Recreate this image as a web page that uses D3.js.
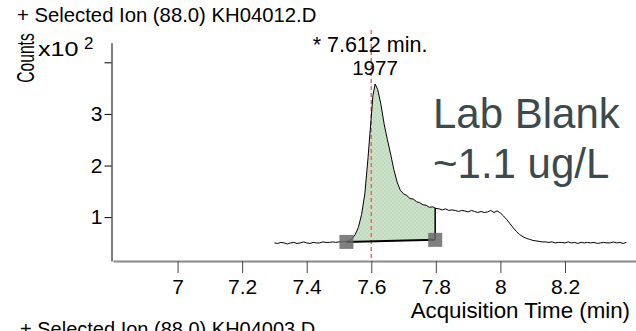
<!DOCTYPE html>
<html>
<head>
<meta charset="utf-8">
<script src="https://cdn.jsdelivr.net/npm/d3@7"></script>
<style>
  html, body { margin: 0; padding: 0; background: #fff; }
  svg { display: block; font-family: "Liberation Sans", Arial, sans-serif; }
</style>
</head>
<body>
<svg id="chart" width="636" height="331"></svg>
<script>
// 数据
const times = [
  7.30, 7.31, 7.32, 7.33, 7.34, 7.35, 7.36, 7.37, 7.38, 7.39,
  7.40, 7.41, 7.42, 7.43, 7.44, 7.45, 7.46, 7.47, 7.48, 7.49,
  7.50, 7.51, 7.52, 7.53, 7.54, 7.55, 7.56, 7.57, 7.58, 7.59,
  7.60, 7.605, 7.612, 7.62, 7.63, 7.64, 7.65, 7.66, 7.67, 7.68,
  7.69, 7.70, 7.71, 7.72, 7.73, 7.74, 7.75, 7.76, 7.77, 7.78,
  7.79, 7.80, 7.81, 7.82, 7.83, 7.84, 7.85, 7.86, 7.87, 7.88,
  7.89, 7.90, 7.91, 7.92, 7.93, 7.94, 7.95, 7.96, 7.97, 7.98,
  7.99, 8.00, 8.01, 8.02, 8.03, 8.04, 8.05, 8.06, 8.07, 8.08,
  8.09, 8.10, 8.11, 8.12, 8.13, 8.14, 8.15, 8.16, 8.17, 8.18,
  8.19, 8.20, 8.21, 8.22, 8.23, 8.24, 8.25, 8.26, 8.27, 8.28,
  8.29, 8.30, 8.31, 8.32, 8.33, 8.34, 8.35, 8.36, 8.37, 8.38, 8.39
];
const counts = [
  0.50, 0.49, 0.51, 0.50, 0.48, 0.50, 0.51, 0.49, 0.50, 0.52,
  0.50, 0.49, 0.51, 0.50, 0.50, 0.52, 0.51, 0.51, 0.52, 0.51,
  0.52, 0.52, 0.53, 0.54, 0.58, 0.66, 0.80, 1.05, 1.45, 2.15,
  2.95, 3.35, 3.58, 3.47, 3.18, 2.80, 2.50, 2.22, 1.92, 1.68,
  1.52, 1.45, 1.42, 1.36, 1.35, 1.30, 1.28, 1.24, 1.23, 1.19,
  1.20, 1.17, 1.16, 1.14, 1.16, 1.13, 1.14, 1.13, 1.11, 1.13,
  1.12, 1.10, 1.13, 1.11, 1.09, 1.11, 1.09, 1.10, 1.13, 1.09,
  1.12, 1.08, 1.02, 0.95, 0.87, 0.79, 0.72, 0.66, 0.62, 0.59,
  0.57, 0.55, 0.54, 0.53, 0.52, 0.52, 0.51, 0.52, 0.50, 0.51,
  0.51, 0.50, 0.52, 0.50, 0.51, 0.49, 0.51, 0.50, 0.51, 0.50,
  0.51, 0.49, 0.50, 0.51, 0.50, 0.50, 0.52, 0.50, 0.51, 0.49, 0.51
];
const xTicks = [7, 7.2, 7.4, 7.6, 7.8, 8, 8.2];
const yTicks = [1, 2, 3, 4];
// 积分起止点 [time, counts]
const integStart = [7.523, 0.52];
const integEnd = [7.798, 0.56];
const rtLine = 7.6;
const peakLabel = ["* 7.612 min.", "1977"];
const noteLines = ["Lab Blank", "~1.1 ug/L"];

const svg = d3.select("#chart");

const x = d3.scaleLinear().domain([6.8, 8.42]).range([113, 636]);
const y = d3.scaleLinear().domain([0.15, 4.38]).range([261, 42.7]);

const series = times.map((t, i) => ({ t, v: counts[i] }));

// 棋盘格填充
const defs = svg.append("defs");
defs.append("pattern")
  .attr("id", "checks")
  .attr("width", 4)
  .attr("height", 4)
  .attr("patternUnits", "userSpaceOnUse")
  .call((p) => {
    p.append("rect").attr("width", 4).attr("height", 4).attr("fill", "#c2dbbe");
    p.append("rect").attr("width", 2).attr("height", 2).attr("fill", "#cde2ca");
    p.append("rect").attr("x", 2).attr("y", 2).attr("width", 2).attr("height", 2).attr("fill", "#cde2ca");
  });

// 标题
svg.append("text")
  .attr("x", 17)
  .attr("y", 22)
  .attr("font-size", 20.3)
  .text("+ Selected Ion (88.0) KH04012.D");

svg.append("text")
  .attr("transform", "translate(33.5, 58) rotate(-90) scale(0.68, 1)")
  .attr("text-anchor", "middle")
  .attr("font-size", 23)
  .text("Counts");

svg.append("text")
  .attr("transform", "translate(38, 56) scale(1.2, 1)")
  .attr("font-size", 21)
  .text("x10");
svg.append("text")
  .attr("x", 84)
  .attr("y", 49)
  .attr("font-size", 17)
  .text("2");

// 积分面积
const baseAt = (t) =>
  integStart[1] + ((t - integStart[0]) / (integEnd[0] - integStart[0])) * (integEnd[1] - integStart[1]);
const curveAt = (t) => {
  const i = d3.bisectLeft(times, t);
  const a = series[i - 1], b = series[i];
  return a.v + ((t - a.t) / (b.t - a.t)) * (b.v - a.v);
};
const inside = series.filter((d) => d.t > integStart[0] && d.t < integEnd[0]);
const areaPts = [
  { t: integStart[0], top: integStart[1], bot: integStart[1] },
  ...inside.map((d) => ({ t: d.t, top: d.v, bot: baseAt(d.t) })),
  { t: integEnd[0], top: curveAt(integEnd[0]), bot: integEnd[1] },
];
svg.append("path")
  .datum(areaPts)
  .attr("fill", "url(#checks)")
  .attr("d", d3.area().x((d) => x(d.t)).y0((d) => y(d.bot)).y1((d) => y(d.top)));

// 保留时间线
svg.append("line")
  .attr("x1", x(rtLine))
  .attr("x2", x(rtLine))
  .attr("y1", 30)
  .attr("y2", 262)
  .attr("stroke", "#f26464")
  .attr("stroke-width", 1.5)
  .attr("stroke-dasharray", "4,3");

// 积分基线
svg.append("line")
  .attr("x1", x(integStart[0]))
  .attr("y1", y(integStart[1]))
  .attr("x2", x(integEnd[0]))
  .attr("y2", y(integEnd[1]))
  .attr("stroke", "#000")
  .attr("stroke-width", 2);
svg.append("line")
  .attr("x1", x(integEnd[0]))
  .attr("y1", y(integEnd[1]))
  .attr("x2", x(integEnd[0]))
  .attr("y2", y(curveAt(integEnd[0])))
  .attr("stroke", "#000")
  .attr("stroke-width", 1.5);

// 色谱曲线
svg.append("path")
  .datum(series)
  .attr("fill", "none")
  .attr("stroke", "#000")
  .attr("stroke-width", 1)
  .attr("stroke-linejoin", "round")
  .attr("d", d3.line().x((d) => x(d.t)).y((d) => y(d.v)));

// 起止标记
svg.append("g")
  .selectAll("rect")
  .data([integStart, integEnd])
  .join("rect")
  .attr("x", (d) => x(d[0]) - 7)
  .attr("y", (d) => y(d[1]) - 7)
  .attr("width", 14)
  .attr("height", 14)
  .attr("fill", "#6a6a6a")
  .attr("opacity", 0.85);

// 坐标轴
svg.append("g")
  .attr("transform", "translate(0, 261)")
  .call(d3.axisBottom(x).tickValues(xTicks).tickSize(12).tickSizeOuter(0).tickFormat(d3.format("")))
  .call((g) => {
    g.select(".domain").attr("stroke", "#8a8a8a").attr("stroke-width", 2);
    g.selectAll(".tick line").attr("stroke", "#444");
    g.selectAll(".tick text")
      .attr("font-size", 21)
      .attr("font-family", "Liberation Sans, Arial, sans-serif")
      .attr("fill", "#000")
      .attr("dy", "0.71em")
      .attr("y", 18);
  });

svg.append("g")
  .attr("transform", "translate(111.5, 0)")
  .call(d3.axisLeft(y).tickValues(yTicks).tickSize(7).tickSizeOuter(0).tickFormat((d) => (d === 4 ? "" : d)))
  .call((g) => {
    g.select(".domain").attr("stroke", "#000");
    g.selectAll(".tick line").attr("stroke", "#000");
    g.selectAll(".tick text")
      .attr("font-size", 21)
      .attr("font-family", "Liberation Sans, Arial, sans-serif")
      .attr("fill", "#000")
      .attr("x", -9);
  });

// 峰标注
svg.append("g")
  .selectAll("text")
  .data(peakLabel)
  .join("text")
  .attr("x", (d, i) => (i === 0 ? 370 : 375))
  .attr("y", (d, i) => 52 + i * 23)
  .attr("text-anchor", "middle")
  .attr("font-size", (d, i) => (i === 0 ? 21.5 : 20.5))
  .text((d) => d);

svg.append("g")
  .selectAll("text")
  .data(noteLines)
  .join("text")
  .attr("x", 433)
  .attr("y", (d, i) => 128 + i * 50)
  .attr("font-size", 42)
  .attr("fill", "#3b4a4e")
  .text((d) => d);

svg.append("text")
  .attr("x", 630)
  .attr("y", 318)
  .attr("text-anchor", "end")
  .attr("font-size", 22.3)
  .text("Acquisition Time (min)");

svg.append("text")
  .attr("x", 20)
  .attr("y", 336)
  .attr("font-size", 20)
  .text("+ Selected Ion (88.0) KH04003.D");
</script>
</body>
</html>
